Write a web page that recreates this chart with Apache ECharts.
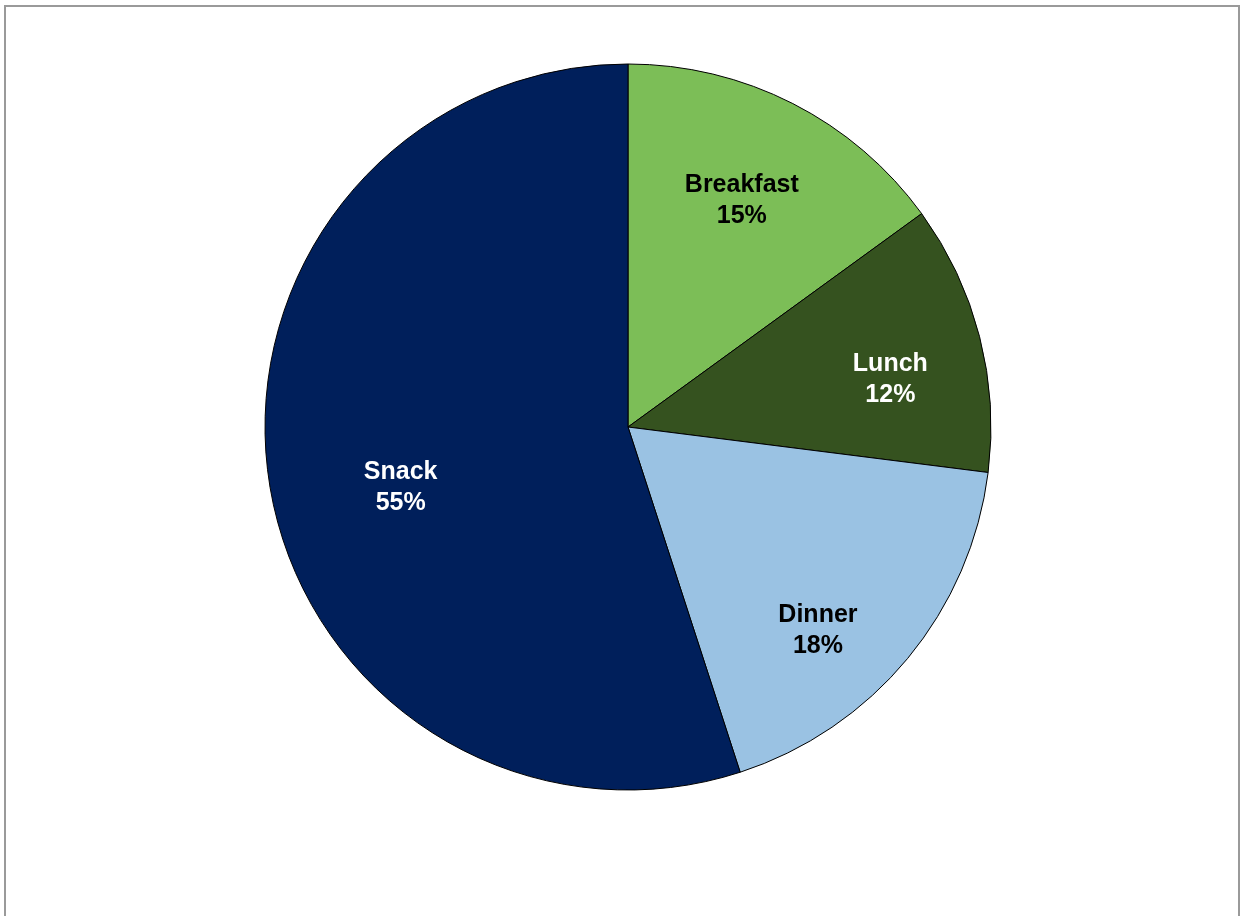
<!DOCTYPE html>
<html>
<head>
<meta charset="utf-8">
<script src="https://cdn.jsdelivr.net/npm/echarts@6/dist/echarts.min.js"></script>
<style>
  html, body { margin: 0; padding: 0; background: #fff; }
  #frame { position: absolute; left: 4px; top: 5px; width: 1236px; height: 920px;
           border: 2px solid #9a9a9a; border-bottom: none; box-sizing: border-box; }
  #chart { position: absolute; left: 0; top: 0; width: 1247px; height: 916px; }
</style>
</head>
<body>
<div id="frame"></div>
<div id="chart"></div>
<script>
// Share of eating occasions
const meals = ['Breakfast', 'Lunch', 'Dinner', 'Snack'];
const shares = [15, 12, 18, 55];

// styling per slice
const sliceColors = ['#7cbe57', '#35521f', '#9ac2e3', '#001f5b'];
const labelColors = ['#000000', '#ffffff', '#000000', '#ffffff'];
const labelNudges = [[-4, 5], [11, 17], [-10, 38], [29, 20]];

const pieData = meals.map((name, i) => ({
  name: name,
  value: shares[i],
  itemStyle: { color: sliceColors[i] }
}));

const labelData = meals.map((name, i) => ({
  name: name,
  value: shares[i],
  label: { color: labelColors[i], offset: labelNudges[i] }
}));

const chart = echarts.init(document.getElementById('chart'), null, { renderer: 'canvas' });
chart.setOption({
  animation: false,
  series: [
    {
      type: 'pie',
      center: [628, 427],
      radius: [0, 363],
      startAngle: 90,
      clockwise: true,
      silent: true,
      data: pieData,
      itemStyle: { borderColor: '#000', borderWidth: 1 },
      label: { show: false },
      labelLine: { show: false }
    },
    {
      // transparent ring used only to place the labels further out
      type: 'pie',
      center: [628, 427],
      radius: [150, 363],
      startAngle: 90,
      clockwise: true,
      silent: true,
      data: labelData,
      itemStyle: { color: 'transparent', borderWidth: 0 },
      label: {
        show: true,
        position: 'inside',
        formatter: p => p.name + '\n' + p.value + '%',
        fontFamily: 'Liberation Sans, Arial, sans-serif',
        fontWeight: 'bold',
        fontSize: 25,
        lineHeight: 31,
        align: 'center'
      },
      labelLine: { show: false }
    }
  ]
});
</script>
</body>
</html>
